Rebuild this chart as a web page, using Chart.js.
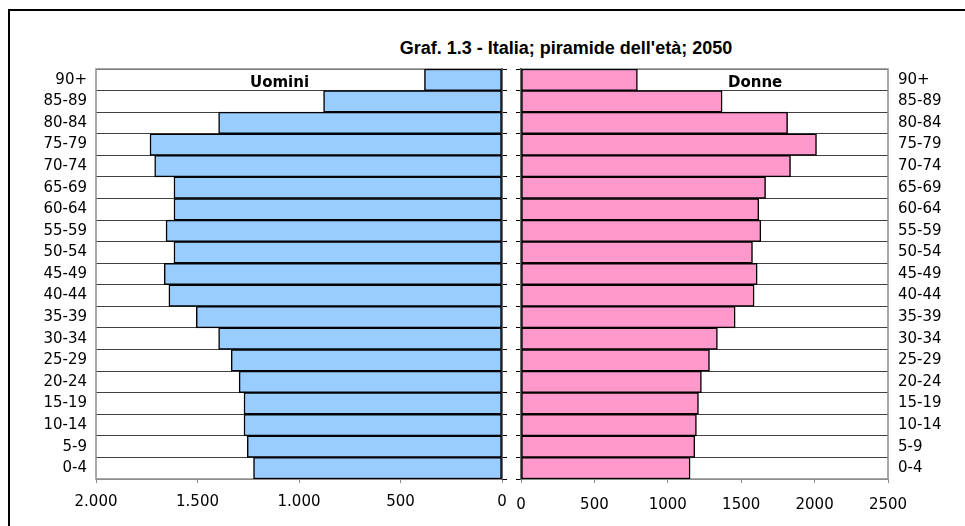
<!DOCTYPE html>
<html>
<head>
<meta charset="utf-8">
<script src="https://cdn.jsdelivr.net/npm/chart.js@4.4.0/dist/chart.umd.min.js"></script>
<style>
  body { margin: 0; background: #fff; }
  #wrap { position: relative; width: 965px; height: 526px; overflow: hidden; background: #fff; }
  #frame { position: absolute; left: 8px; top: 9px; width: 962px; height: 540px; border: 2px solid #000; box-sizing: border-box; }
  #title { position: absolute; left: 366px; top: 37px; width: 400px; text-align: center;
           font: bold 18px "Liberation Sans Narrow", "Liberation Sans", sans-serif; line-height: 22px; color: #000; }
  .panel { position: absolute; top: 0; }
</style>
</head>
<body>
<div id="wrap">
  <div id="frame"></div>
  <div id="title">Graf. 1.3 - Italia; piramide dell'età; 2050</div>
  <div class="panel" style="left:0"><canvas id="men" width="522" height="526"></canvas></div>
  <div class="panel" style="left:501px"><canvas id="women" width="464" height="526"></canvas></div>
</div>
<script>
///// PIRAMIDE DELL'ETA' 2050 /////

// Classi di età (dall'alto verso il basso)
const ageGroups = ['90+', '85-89', '80-84', '75-79', '70-74', '65-69', '60-64', '55-59', '50-54',
                   '45-49', '40-44', '35-39', '30-34', '25-29', '20-24', '15-19', '10-14', '5-9', '0-4'];

// Popolazione (migliaia)
const menValues   = [382, 879, 1396, 1734, 1711, 1616, 1616, 1655, 1616,
                     1664, 1641, 1506, 1396, 1334, 1295, 1271, 1271, 1255, 1224];
const womenValues = [793, 1370, 1816, 2013, 1836, 1666, 1620, 1634, 1577,
                     1609, 1588, 1459, 1338, 1284, 1229, 1209, 1195, 1184, 1152];

// Tick asse orizzontale
const menTicks = [0, 500, 1000, 1500, 2000];
const menTickLabels = ['0', '500', '1.000', '1.500', '2.000'];
const womenTicks = [0, 500, 1000, 1500, 2000, 2500];
const womenTickLabels = ['0', '500', '1000', '1500', '2000', '2500'];

const labelFont = { family: 'DejaVu Sans', size: 15 };

// bordo grigio dell'area del grafico
const plotFrame = {
    id: 'plotFrame',
    beforeDatasetsDraw(chart) {
        const a = chart.chartArea;
        const c = chart.ctx;
        c.save();
        c.strokeStyle = '#8c8c8c';
        c.lineWidth = 1.5;
        c.strokeRect(a.left, a.top, a.right - a.left, a.bottom - a.top);
        c.restore();
    }
};

// scritta "Uomini" / "Donne" dentro il grafico
const panelLabel = {
    id: 'panelLabel',
    afterDatasetsDraw(chart, args, opts) {
        const a = chart.chartArea;
        const c = chart.ctx;
        const y = chart.scales.y.getPixelForValue(0);
        c.save();
        c.font = 'bold 15px "DejaVu Sans"';
        c.fillStyle = '#000';
        c.textAlign = 'center';
        c.textBaseline = 'middle';
        c.fillText(opts.text, a.left + (a.right - a.left) * opts.at, y + 3);
        c.restore();
    }
};

function makePyramidSide(canvasId, opts) {
    return new Chart(canvasId, {
        type: 'bar',
        data: {
            labels: ageGroups,
            datasets: [{
                data: opts.values,
                backgroundColor: opts.color,
                borderColor: '#000',
                borderWidth: 1.5,
                borderSkipped: false,
                barPercentage: 1,
                categoryPercentage: 1
            }]
        },
        plugins: [plotFrame, panelLabel],
        options: {
            indexAxis: 'y',
            responsive: false,
            animation: false,
            layout: { padding: { top: 69, right: 0, left: 0, bottom: 0 } },
            plugins: {
                legend: { display: false },
                tooltip: { enabled: false },
                panelLabel: { text: opts.title, at: opts.titleAt }
            },
            scales: {
                x: {
                    type: 'linear',
                    reverse: opts.reverse,
                    min: 0,
                    max: opts.ticks[opts.ticks.length - 1],
                    afterBuildTicks(s) { s.ticks = opts.ticks.map(v => ({ value: v })); },
                    ticks: {
                        font: labelFont,
                        color: '#000',
                        padding: opts.xPad,
                        maxRotation: 0,
                        autoSkip: false,
                        callback: (v, i) => opts.tickLabels[i]
                    },
                    grid: { drawOnChartArea: false, drawTicks: true, tickLength: 4, color: '#8c8c8c' },
                    border: { color: '#8c8c8c' },
                    afterFit(s) { s.height = 47; }
                },
                y: {
                    type: 'category',
                    position: opts.labelSide,
                    offset: true,
                    grid: { offset: true, color: '#404040', drawTicks: false },
                    border: { display: false },
                    ticks: { font: labelFont, color: '#000', padding: opts.yPad, autoSkip: false },
                    afterFit(s) { s.width = opts.labelWidth; }
                },
                // asse a zero: solo linea e tacche
                y2: {
                    type: 'category',
                    position: opts.tickSide,
                    offset: true,
                    grid: { offset: true, drawOnChartArea: false, drawTicks: true, tickLength: 5, color: '#000' },
                    border: { color: '#000', width: 2 },
                    ticks: { display: false },
                    afterFit(s) { s.width = 20; }
                }
            }
        }
    });
}

const menChart = makePyramidSide('men', {
    values: menValues,
    color: '#99ccff',
    reverse: true,
    ticks: menTicks,
    tickLabels: menTickLabels,
    labelSide: 'left',
    tickSide: 'right',
    labelWidth: 96,
    yPad: 9,
    xPad: 10,
    title: 'Uomini',
    titleAt: 0.452
});

const womenChart = makePyramidSide('women', {
    values: womenValues,
    color: '#ff99cc',
    reverse: false,
    ticks: womenTicks,
    tickLabels: womenTickLabels,
    labelSide: 'right',
    tickSide: 'left',
    labelWidth: 77,
    yPad: 10,
    xPad: 13,
    title: 'Donne',
    titleAt: 0.638
});
</script>
</body>
</html>
